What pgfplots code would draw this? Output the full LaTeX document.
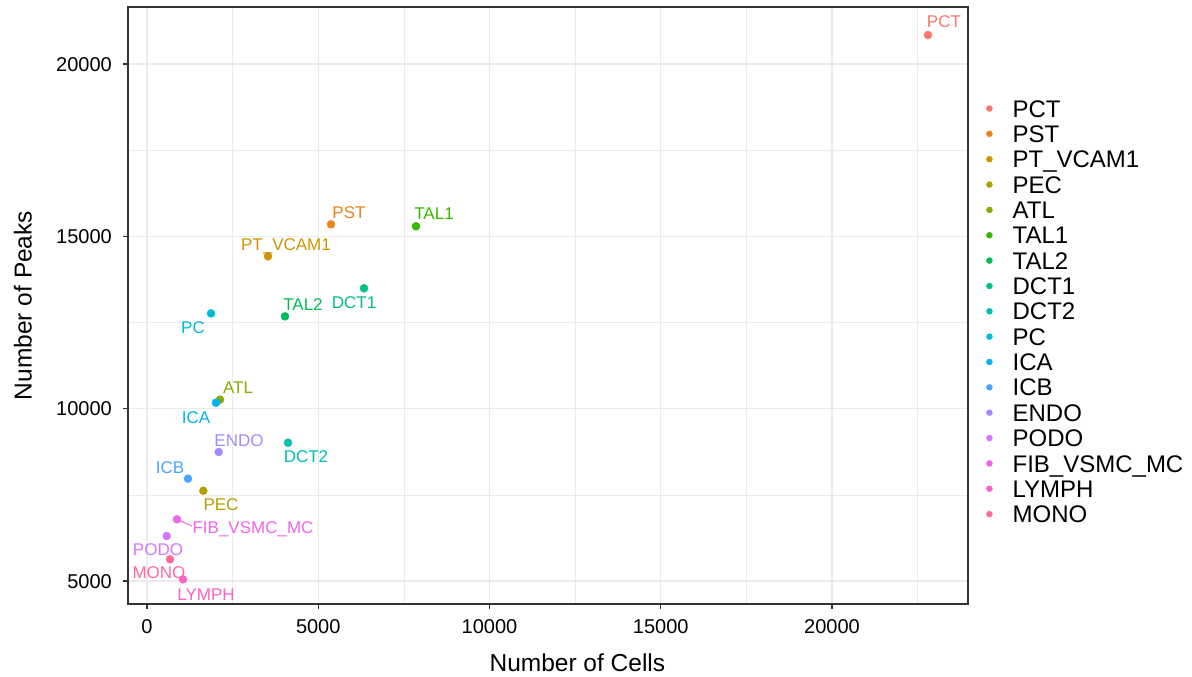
\documentclass[border=0pt]{standalone}
\usepackage{fontspec}
\setmainfont{Liberation Sans}
\usepackage{pgfplots}
\pgfplotsset{compat=1.18}
\definecolor{cPCT}{HTML}{F8766D}
\definecolor{cPST}{HTML}{E8851A}
\definecolor{cPTV}{HTML}{D19400}
\definecolor{cPEC}{HTML}{B1A100}
\definecolor{cATL}{HTML}{86AC00}
\definecolor{cTALa}{HTML}{38B600}
\definecolor{cTALb}{HTML}{00BC56}
\definecolor{cDCTa}{HTML}{00C088}
\definecolor{cDCTb}{HTML}{00C0B2}
\definecolor{cPC}{HTML}{00BCD6}
\definecolor{cICA}{HTML}{00B3F2}
\definecolor{cICB}{HTML}{4BA2FF}
\definecolor{cENDO}{HTML}{A58AFF}
\definecolor{cPODO}{HTML}{D376FF}
\definecolor{cFIB}{HTML}{F066EA}
\definecolor{cLYMPH}{HTML}{FF62C5}
\definecolor{cMONO}{HTML}{FF6A9D}
\definecolor{gridc}{HTML}{EBEBEB}
\definecolor{frame}{HTML}{333333}
\begin{document}
\begin{tikzpicture}[x=1pt,y=1pt]
\useasboundingbox (-128,-73) rectangle (1064,604);
\begin{axis}[
  at={(0,0)}, anchor=south west,
  scale only axis, width=840pt, height=597pt,
  xmin=-555, xmax=23971, ymin=4333, ymax=21654,
  xtick={0,5000,10000,15000,20000},
  ytick={5000,10000,15000,20000},
  minor xtick={2500,7500,12500,17500,22500},
  minor ytick={7500,12500,17500},
  grid=both,
  major grid style={color=gridc, line width=1.1pt},
  minor grid style={color=gridc, line width=0.55pt},
  axis line style={color=frame, line width=1.1pt},
  tick align=outside, xtick pos=bottom, ytick pos=left,
  major tick length=5pt, minor tick length=0pt,
  tick style={color=frame, line width=1.1pt},
  scaled ticks=false,
  /pgf/number format/assume math mode=true,
  /pgf/number format/set thousands separator={},
  ticklabel style={font=\fontsize{20}{20}\selectfont, color=black},
  xticklabel style={anchor=north, inner sep=0pt, text height=14.3pt, text depth=0pt, yshift=-10pt},
  yticklabel style={anchor=east, inner sep=0pt, text height=14.3pt, text depth=0pt, xshift=-11pt},
  xlabel={Number of Cells},
  ylabel={Number of Peaks},
  label style={font=\fontsize{24.5}{24.5}\selectfont},
  xlabel style={at={(axis description cs:0.535,0)}, anchor=center, yshift=-59pt, inner sep=0pt, text height=17.5pt, text depth=0pt},
  ylabel style={at={(axis description cs:0,0.5)}, rotate=0, anchor=center, yshift=105pt, inner sep=0pt, text height=17.5pt, text depth=0pt},
  clip=false,
  legend cell align=left,
  legend style={at={(1.0179,0.8447)}, anchor=north west, draw=none, fill=none,
    inner sep=0pt, column sep=0pt, row sep=8.15pt,
    font=\fontsize{24}{24}\selectfont,
    nodes={inner sep=0pt, text height=17.2pt, text depth=0pt}},
  legend image code/.code={\path (0pt,0pt) (29pt,0pt); \draw[#1, mark size=3pt] plot coordinates {(6pt,0pt)};},
  every axis plot/.append style={only marks, mark=*, mark size=4pt},
]
\addplot[color=cPCT] coordinates {(22803,20841)}; \addlegendentry{PCT}
\addplot[color=cPST] coordinates {(5372,15348)}; \addlegendentry{PST}
\addplot[color=cPTV] coordinates {(3533,14420)}; \addlegendentry{PT\_VCAM1}
\addplot[color=cPEC] coordinates {(1644,7620)}; \addlegendentry{PEC}
\addplot[color=cATL] coordinates {(2131,10261)}; \addlegendentry{ATL}
\addplot[color=cTALa] coordinates {(7854,15290)}; \addlegendentry{TAL1}
\addplot[color=cTALb] coordinates {(4029,12678)}; \addlegendentry{TAL2}
\addplot[color=cDCTa] coordinates {(6336,13491)}; \addlegendentry{DCT1}
\addplot[color=cDCTb] coordinates {(4117,9013)}; \addlegendentry{DCT2}
\addplot[color=cPC] coordinates {(1869,12765)}; \addlegendentry{PC}
\addplot[color=cICA] coordinates {(2015,10174)}; \addlegendentry{ICA}
\addplot[color=cICB] coordinates {(1197,7969)}; \addlegendentry{ICB}
\addplot[color=cENDO] coordinates {(2093,8743)}; \addlegendentry{ENDO}
\addplot[color=cPODO] coordinates {(575,6306)}; \addlegendentry{PODO}
\addplot[color=cFIB] coordinates {(876,6790)}; \addlegendentry{FIB\_VSMC\_MC}
\addplot[color=cLYMPH] coordinates {(1051,5049)}; \addlegendentry{LYMPH}
\addplot[color=cMONO] coordinates {(672,5630)}; \addlegendentry{MONO}
\draw[cFIB, line width=1pt] (axis cs:876,6790) -- (axis cs:1314,6593);
\tikzset{lab/.style={inner sep=0pt, text height=12.2pt, text depth=0pt, font=\fontsize{17}{17}\selectfont, anchor=center}}
\node[lab, text=cPCT] at (axis cs:23270,21248) {PCT};
\node[lab, text=cPST] at (axis cs:5898,15705) {PST};
\node[lab, text=cPTV] at (axis cs:4058,14777) {PT\_VCAM1};
\node[lab, text=cTALa] at (axis cs:8380,15676) {TAL1};
\node[lab, text=cDCTa] at (axis cs:6044,13094) {DCT1};
\node[lab, text=cTALb] at (axis cs:4555,13035) {TAL2};
\node[lab, text=cPC] at (axis cs:1343,12368) {PC};
\node[lab, text=cATL] at (axis cs:2657,10627) {ATL};
\node[lab, text=cICA] at (axis cs:1431,9756) {ICA};
\node[lab, text=cENDO] at (axis cs:2686,9089) {ENDO};
\node[lab, text=cDCTb] at (axis cs:4642,8625) {DCT2};
\node[lab, text=cICB] at (axis cs:672,8305) {ICB};
\node[lab, text=cPEC] at (axis cs:2161,7232) {PEC};
\node[lab, text=cFIB] at (axis cs:3095,6564) {FIB\_VSMC\_MC};
\node[lab, text=cPODO] at (axis cs:321,5926) {PODO};
\node[lab, text=cMONO] at (axis cs:350,5258) {MONO};
\node[lab, text=cLYMPH] at (axis cs:1723,4620) {LYMPH};
\end{axis}
\end{tikzpicture}
\end{document}
